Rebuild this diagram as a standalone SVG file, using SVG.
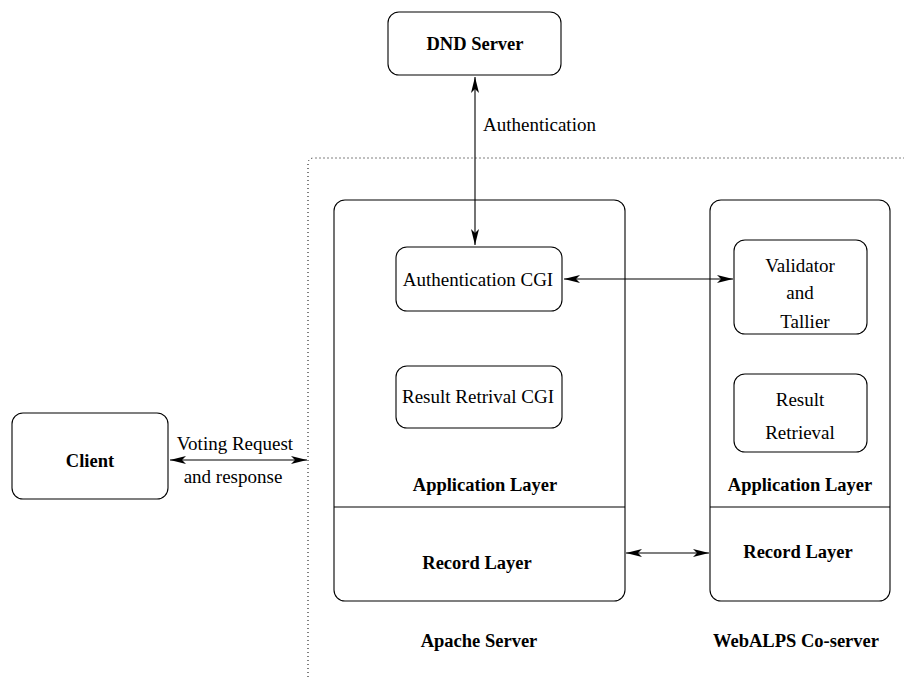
<svg xmlns="http://www.w3.org/2000/svg" width="904" height="677" viewBox="0 0 904 677">
<defs>
<style>
.box{fill:#fff;stroke:#000;stroke-width:1.1}
text{font-family:'Liberation Serif','Times New Roman','DejaVu Serif',serif;font-size:19px;fill:#000;text-anchor:middle}
.b{font-weight:bold;font-size:18.5px}
.c{stroke:#000;stroke-width:1.1;fill:none}
</style>
<marker id="ah" viewBox="0 0 16 8" refX="16" refY="4" markerWidth="16" markerHeight="8" markerUnits="userSpaceOnUse" orient="auto-start-reverse">
<path d="M0,0 L16,4 L0,8 L4,4 Z" fill="#000"/>
</marker>
</defs>
<rect width="904" height="677" fill="#fff"/>
<g id="boundary">
<path d="M308,677 L308,164 Q308,158 314,158 L904,158" fill="none" stroke="#000" stroke-width="1" stroke-dasharray="1 3"/>
</g>
<g id="dnd">
<rect class="box" x="388" y="12" width="173" height="63" rx="11"/>
<text class="b" x="475" y="50">DND Server</text>
</g>
<g id="apache">
<rect class="box" x="334" y="200" width="291" height="401" rx="11"/>
<line class="c" x1="334" y1="507" x2="625" y2="507"/>
<text class="b" x="485" y="491">Application Layer</text>
<text class="b" x="477" y="569">Record Layer</text>
</g>
<g id="webalps">
<rect class="box" x="710" y="200" width="180" height="401" rx="11"/>
<line class="c" x1="710" y1="507" x2="890" y2="507"/>
<text class="b" x="800" y="491">Application Layer</text>
<text class="b" x="798" y="558">Record Layer</text>
</g>
<g id="authcgi">
<rect class="box" x="396" y="247" width="166" height="64" rx="11"/>
<text x="478" y="286">Authentication CGI</text>
</g>
<g id="resultcgi">
<rect class="box" x="396" y="366" width="166" height="62" rx="11"/>
<text x="478" y="403">Result Retrival CGI</text>
</g>
<g id="validator">
<rect class="box" x="734" y="240" width="133" height="94" rx="11"/>
<text x="800" y="272">Validator</text>
<text x="800" y="299">and</text>
<text x="805" y="328">Tallier</text>
</g>
<g id="retrieval">
<rect class="box" x="734" y="374" width="133" height="78" rx="11"/>
<text x="800" y="406">Result</text>
<text x="800" y="439">Retrieval</text>
</g>
<g id="client">
<rect class="box" x="12" y="413" width="156" height="86" rx="11"/>
<text class="b" x="90" y="467">Client</text>
</g>
<g id="labels">
<text x="483" y="131" style="text-anchor:start">Authentication</text>
<text x="235" y="450">Voting Request</text>
<text x="233" y="483">and response</text>
<text class="b" x="479" y="647">Apache Server</text>
<text class="b" x="796" y="647">WebALPS Co-server</text>
</g>
<g id="connectors">
<line class="c" x1="475" y1="77" x2="475" y2="245" marker-start="url(#ah)" marker-end="url(#ah)"/>
<line class="c" x1="564" y1="279" x2="733" y2="279" marker-start="url(#ah)" marker-end="url(#ah)"/>
<line class="c" x1="170" y1="460" x2="307" y2="460" marker-start="url(#ah)" marker-end="url(#ah)"/>
<line class="c" x1="626" y1="553" x2="709" y2="553" marker-start="url(#ah)" marker-end="url(#ah)"/>
</g>
</svg>
